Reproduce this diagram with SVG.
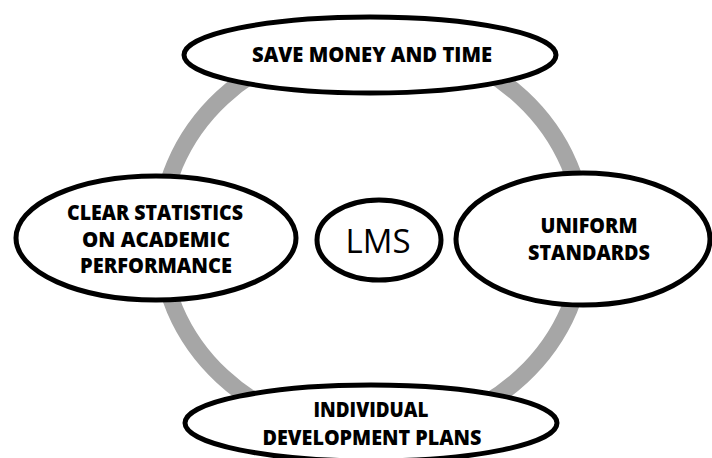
<svg xmlns="http://www.w3.org/2000/svg" width="712" height="458" viewBox="0 0 712 458">
<style>
.node{fill:#ffffff;stroke:#000000;stroke-width:5}
.ring{fill:none;stroke:#a6a6a6;stroke-width:17}
.lbl{font-family:"Open Sans","Liberation Sans",sans-serif;font-weight:800;font-size:21px;fill:#000000;text-anchor:middle}
.center{font-family:"Open Sans","Liberation Sans",sans-serif;font-size:32px;fill:#000000;text-anchor:middle}
</style>
<rect width="712" height="458" fill="#ffffff"/>
<g id="connectors">
<ellipse class="ring" cx="372" cy="237" rx="212" ry="197"/>
</g>
<g id="node-save">
<ellipse class="node" cx="370" cy="55" rx="186" ry="38"/>
<text class="lbl" x="372" y="62" textLength="240" lengthAdjust="spacingAndGlyphs">SAVE MONEY AND TIME</text>
</g>
<g id="node-stats">
<ellipse class="node" cx="156" cy="238" rx="140" ry="62"/>
<text class="lbl" x="155" y="220" textLength="176" lengthAdjust="spacingAndGlyphs">CLEAR STATISTICS</text>
<text class="lbl" x="156" y="247" textLength="148" lengthAdjust="spacingAndGlyphs">ON ACADEMIC</text>
<text class="lbl" x="156" y="273" textLength="152" lengthAdjust="spacingAndGlyphs">PERFORMANCE</text>
</g>
<g id="node-lms">
<ellipse class="node" cx="379" cy="240" rx="62" ry="40"/>
<text class="center" x="378" y="253" textLength="65" lengthAdjust="spacingAndGlyphs">LMS</text>
</g>
<g id="node-uniform">
<ellipse class="node" cx="583" cy="239" rx="127" ry="66"/>
<text class="lbl" x="589" y="233" textLength="97" lengthAdjust="spacingAndGlyphs">UNIFORM</text>
<text class="lbl" x="589" y="260" textLength="122" lengthAdjust="spacingAndGlyphs">STANDARDS</text>
</g>
<g id="node-plans">
<ellipse class="node" cx="371" cy="423" rx="186" ry="38"/>
<text class="lbl" x="371" y="417" textLength="115" lengthAdjust="spacingAndGlyphs">INDIVIDUAL</text>
<text class="lbl" x="372" y="445" textLength="219" lengthAdjust="spacingAndGlyphs">DEVELOPMENT PLANS</text>
</g>
</svg>
